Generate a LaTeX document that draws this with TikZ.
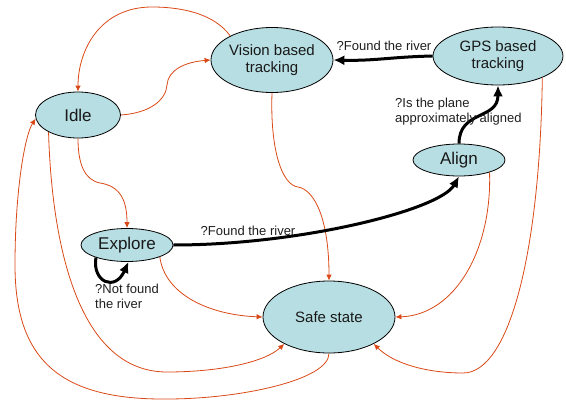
\documentclass[tikz,border=0pt]{standalone}
\usepackage{fontspec}
\setmainfont{Liberation Sans}
\usetikzlibrary{shapes.geometric,arrows.meta}
\definecolor{nodefill}{RGB}{183,222,226}
\definecolor{edgeorange}{RGB}{218,72,22}
\begin{document}
\begin{tikzpicture}[x=1pt,y=-1pt,
  state/.style={ellipse,draw=black,line width=0.8pt,fill=nodefill,inner sep=0pt,align=center,text=black!90},
  bigfont/.style={font=\fontsize{17}{19}\selectfont},
  midfont/.style={font=\fontsize{15}{17.5}\selectfont},
  orangeedge/.style={draw=edgeorange,line width=0.8pt,-{Latex[length=6pt,width=5.5pt]}},
  blackedge/.style={draw=black,line width=3pt,-{Latex[length=11pt,width=10pt]}},
  lbl/.style={font=\fontsize{13}{15}\selectfont,text=black!88,inner sep=0pt}]
\useasboundingbox (0,0) rectangle (566,402);

% states
\node[state,bigfont,minimum width=85pt,minimum height=46pt] (idle) at (78,115) {Idle};
\node[state,midfont,minimum width=122pt,minimum height=65pt] (vision) at (272,60) {Vision based\\tracking};
\node[state,midfont,minimum width=130pt,minimum height=58pt] (gps) at (498,56) {GPS based\\tracking};
\node[state,bigfont,minimum width=92pt,minimum height=32pt] (align) at (459,160) {Align};
\node[state,bigfont,minimum width=92pt,minimum height=33pt] (explore) at (127,245) {Explore};
\node[state,midfont,minimum width=132pt,minimum height=72pt] (safe) at (329,317) {Safe state};

% thin orange transitions
\draw[orangeedge] (vision.150) .. controls (215,15) and (185,7) .. (152,7) .. controls (100,7) and (78,50) .. (idle.north);
\draw[orangeedge] (idle.east) .. controls (150,113) and (166,100) .. (167,85) .. controls (168,70) and (185,62) .. (vision.west);
\draw[orangeedge] (idle.south) .. controls (78,165) and (85,180) .. (100,183) .. controls (120,186) and (127,200) .. (explore.north);
\draw[orangeedge] (vision.south) .. controls (270,150) and (282,185) .. (298,187) .. controls (315,190) and (329,220) .. (safe.north);
\draw[orangeedge] (explore.340) .. controls (165,295) and (210,315) .. (safe.west);
\draw[orangeedge] (idle.210) .. controls (52,250) and (80,372) .. (167,372) .. controls (220,372) and (265,362) .. (safe.211);
\draw[orangeedge] (safe.south) .. controls (329,380) and (240,399) .. (167,399) .. controls (60,400) and (15,360) .. (15,265) .. controls (15,190) and (25,135) .. (idle.185);
\draw[orangeedge] (align.338) .. controls (492,250) and (455,315) .. (safe.east);
\draw[orangeedge] (gps.334) .. controls (540,250) and (510,373) .. (463,373) .. controls (430,373) and (395,365) .. (safe.329);

% thick black transitions
\draw[blackedge] (gps.west) .. controls (390,57) and (375,61) .. (vision.east);
\draw[blackedge] (align.north) .. controls (459,110) and (498,120) .. (gps.south);
\draw[blackedge] (explore.east) .. controls (300,245) and (440,210) .. (align.south);
\draw[blackedge] (explore.202) .. controls (92,282) and (115,292) .. (explore.275);

% labels
\node[lbl] (lfound1) at (384,46) {?Found the river};
\node[lbl,anchor=west,align=left] (laligned) at (395,112) {?Is the plane\\approximately aligned};
\node[lbl] (lfound2) at (248,231) {?Found the river};
\node[lbl,anchor=west,align=left] (lnotfound) at (95,296) {?Not found\\the river};
\end{tikzpicture}
\end{document}
